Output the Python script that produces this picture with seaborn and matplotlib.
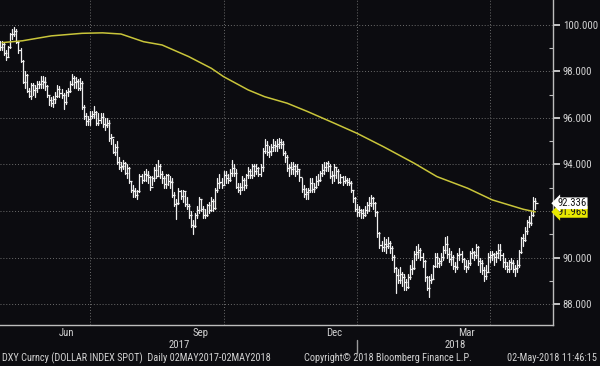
import numpy as np
import pandas as pd
import matplotlib
matplotlib.use("Agg")
import matplotlib.pyplot as plt
import matplotlib.transforms as mtransforms
from matplotlib import font_manager
import seaborn as sns

# === Daily bars, DXY 02MAY2017 - 02MAY2018 ===
start, end = "2017-05-02", "2018-05-02"

highs = [
    99.3, 99.3, 99.2, 98.9, 99.1, 99.65, 99.8, 99.9, 99.8, 99.3, 99.0, 98.5, 98.0, 97.9, 97.3, 97.5, 97.5, 97.4, 97.6, 97.6, 97.8, 97.8,
    97.75, 97.40, 96.95, 96.90, 96.95, 97.10, 97.40, 97.35, 97.25, 97.05, 97.20, 97.30, 97.60, 97.90, 97.80, 97.75, 97.65, 97.70, 97.60, 96.55, 96.20, 96.10,
    96.30, 96.30, 96.50, 96.30, 96.20, 96.20, 96.20, 96.00, 96.00, 95.90, 95.30, 95.10, 94.90, 95.00, 94.30, 94.10, 94.20, 94.10, 94.00, 93.90, 93.30,
    93.10, 93.00, 92.90, 93.60, 93.60, 93.70, 93.80, 93.70, 93.50, 93.50, 93.90, 94.00, 94.20, 94.00, 93.70, 93.50, 93.60, 93.60, 93.50, 93.40, 92.80, 92.50, 93.00,
    92.90, 92.90, 92.80, 92.60, 92.30, 92.00, 91.60, 91.90, 92.20, 92.60, 92.50, 92.20, 92.10, 92.30, 92.40, 92.60, 92.50, 93.00, 93.40, 93.60, 93.40,
    93.70, 93.70, 93.60, 93.80, 94.20, 94.00, 93.80, 93.20, 93.20, 93.50, 93.40, 93.60, 93.90, 93.80, 94.00, 94.00, 94.00, 93.90, 94.00, 94.70, 95.10, 95.00,
    94.80, 94.90, 95.10, 95.00, 95.10, 95.15, 95.10, 95.00, 94.60, 94.40, 94.00, 94.10, 94.10, 94.00, 94.00, 93.80, 93.40, 93.10, 93.00, 93.00, 93.40, 93.40,
    93.20, 93.50, 93.60, 93.70, 94.00, 94.10, 94.10, 94.15, 94.00, 93.70, 94.00, 93.90, 93.80, 93.60, 93.50, 93.50, 93.40, 93.40, 93.30, 92.90, 92.60,
    92.30, 92.20, 92.10, 92.10, 92.20, 92.40, 92.60, 92.70, 92.60, 92.40, 92.00, 91.10, 90.70, 90.90, 90.80, 90.90, 90.70, 90.50, 90.10, 89.60, 89.50, 89.60, 89.40,
    89.30, 89.10, 89.30, 89.70, 89.90, 90.30, 90.50, 90.60, 90.40, 90.20, 89.90, 89.20, 89.20, 89.30, 89.70, 90.20, 90.20, 90.00, 90.20, 90.50,
    90.90, 90.95, 90.40, 90.30, 90.10, 89.80, 90.20, 90.40, 90.30, 90.00, 89.90, 89.90, 90.30, 90.40, 90.30, 90.60, 90.50, 90.00, 89.90, 89.60, 89.70, 90.20,
    90.30, 90.30, 90.20, 90.30, 90.60, 90.60, 90.20, 90.00, 89.80, 89.90, 90.00, 89.90, 89.70, 89.90, 90.35, 90.90, 91.00, 91.30, 91.60, 91.80, 92.00, 92.60, 92.55,
]

lows = [
    98.9, 98.9, 98.7, 98.5, 98.6, 99.0, 99.4, 99.5, 99.2, 98.8, 98.4, 97.5, 97.3, 97.1, 96.9, 96.8, 97.0, 96.9, 97.1, 97.3, 97.3, 97.3,
    97.20, 96.90, 96.55, 96.50, 96.45, 96.65, 96.90, 96.90, 96.85, 96.40, 96.60, 96.95, 97.10, 97.40, 97.30, 97.30, 97.20, 97.20, 96.40, 95.95, 95.70, 95.70,
    95.70, 96.00, 96.00, 95.70, 95.70, 95.80, 95.60, 95.50, 95.60, 95.00, 94.90, 94.50, 94.40, 94.00, 93.80, 93.70, 93.80, 93.60, 93.40, 93.20, 92.80,
    92.60, 92.60, 92.50, 92.80, 93.20, 93.30, 93.30, 93.20, 92.90, 93.10, 93.30, 93.40, 93.50, 93.40, 93.20, 93.00, 93.00, 93.10, 93.00, 92.60, 92.20, 91.65, 92.30,
    92.50, 92.40, 92.20, 92.10, 91.70, 91.30, 91.00, 91.30, 91.70, 91.90, 92.00, 91.70, 91.70, 91.80, 91.90, 92.00, 92.00, 92.10, 92.80, 93.00, 93.00,
    93.10, 93.20, 93.20, 93.30, 93.50, 93.50, 93.00, 92.80, 92.75, 92.90, 92.90, 93.00, 93.40, 93.40, 93.40, 93.50, 93.60, 93.50, 93.50, 93.70, 94.50, 94.40,
    94.30, 94.40, 94.60, 94.60, 94.60, 94.70, 94.70, 94.40, 94.10, 93.70, 93.50, 93.60, 93.60, 93.50, 93.60, 93.30, 92.80, 92.60, 92.50, 92.50, 92.80, 92.80,
    92.80, 93.00, 93.10, 93.30, 93.50, 93.60, 93.70, 93.70, 93.40, 93.20, 93.30, 93.40, 93.20, 93.20, 93.10, 93.20, 93.10, 93.10, 92.80, 92.40, 92.00,
    91.80, 91.80, 91.70, 91.70, 91.80, 91.90, 92.00, 92.20, 92.10, 91.80, 90.90, 90.40, 90.30, 90.30, 90.20, 90.40, 90.20, 89.90, 89.40, 88.50, 88.90, 88.90, 88.80,
    88.60, 88.60, 88.70, 89.10, 89.30, 89.50, 89.90, 90.00, 89.90, 89.60, 89.00, 88.60, 88.30, 88.90, 89.10, 89.60, 89.60, 89.60, 89.70, 89.90,
    90.20, 90.00, 89.80, 89.70, 89.50, 89.40, 89.50, 89.90, 89.80, 89.50, 89.40, 89.50, 89.70, 90.00, 89.90, 90.00, 89.70, 89.40, 89.30, 89.00, 89.10, 89.40,
    89.80, 89.90, 89.70, 89.80, 90.00, 89.90, 89.60, 89.50, 89.40, 89.40, 89.50, 89.40, 89.20, 89.40, 89.60, 90.20, 90.50, 90.70, 91.00, 91.30, 91.40, 91.80, 92.10,
]

closes = [
    99.05, 99.15, 98.80, 98.60, 99.05, 99.60, 99.60, 99.75, 99.25, 98.90, 98.45, 97.55, 97.85, 97.15, 96.95, 97.40, 97.20, 97.30, 97.45, 97.45, 97.60, 97.55,
    97.35, 97.00, 96.75, 96.65, 96.80, 96.95, 97.25, 97.05, 97.00, 96.70, 97.10, 97.15, 97.45, 97.70, 97.55, 97.60, 97.30, 97.50, 96.45, 96.10, 95.85, 95.95,
    96.10, 96.15, 96.25, 95.80, 95.90, 96.05, 95.75, 95.70, 95.80, 95.15, 95.20, 94.55, 94.75, 94.10, 93.90, 93.95, 94.05, 93.65, 93.85, 93.30, 92.90,
    92.85, 92.70, 92.85, 93.50, 93.35, 93.60, 93.55, 93.45, 93.05, 93.40, 93.75, 93.50, 93.95, 93.60, 93.40, 93.15, 93.55, 93.30, 93.25, 92.70, 92.30, 92.35, 92.85,
    92.65, 92.85, 92.30, 92.20, 91.85, 91.40, 91.35, 91.85, 92.05, 92.50, 92.10, 91.85, 91.85, 92.25, 92.05, 92.45, 92.15, 92.90, 93.20, 93.25, 93.10,
    93.55, 93.40, 93.35, 93.65, 93.85, 93.65, 93.05, 92.90, 93.05, 93.35, 93.10, 93.55, 93.70, 93.55, 93.95, 93.70, 93.85, 93.60, 93.90, 94.60, 94.85, 94.55,
    94.60, 94.75, 94.85, 94.80, 94.90, 94.95, 94.90, 94.50, 94.30, 93.85, 93.90, 93.80, 93.95, 93.70, 93.80, 93.45, 92.95, 92.75, 92.80, 92.90, 93.20, 92.95,
    93.05, 93.30, 93.35, 93.65, 93.75, 93.90, 94.05, 93.95, 93.50, 93.55, 93.90, 93.70, 93.25, 93.45, 93.30, 93.35, 93.25, 93.20, 92.90, 92.55, 92.10,
    91.95, 92.05, 91.90, 91.85, 92.05, 92.25, 92.35, 92.55, 92.35, 91.95, 91.05, 90.55, 90.45, 90.60, 90.50, 90.65, 90.40, 90.05, 89.55, 89.25, 89.05, 89.30, 89.15,
    88.95, 88.75, 89.15, 89.50, 89.55, 90.15, 90.25, 90.35, 90.05, 89.85, 89.15, 88.70, 89.05, 89.10, 89.65, 90.05, 89.75, 89.85, 90.05, 90.35,
    90.60, 90.15, 89.95, 90.05, 89.65, 89.60, 90.10, 90.15, 89.95, 89.65, 89.60, 89.75, 90.20, 90.25, 90.10, 90.45, 89.85, 89.75, 89.45, 89.20, 89.40, 90.05,
    90.10, 90.15, 90.05, 90.20, 90.35, 90.10, 89.80, 89.65, 89.50, 89.80, 89.75, 89.50, 89.55, 89.70, 90.25, 90.85, 90.75, 91.15, 91.55, 91.50, 91.85, 92.45, 92.336,
]

# 200-day moving average (trading-day position, value)
ma_pos = [1, 11, 25, 40, 50, 59, 70, 79, 92, 103, 109, 121, 129, 140, 150, 163, 174, 187, 202, 213, 228, 240, 255, 261]
ma_vals = [99.23, 99.31, 99.52, 99.63, 99.65, 99.60, 99.27, 99.13, 98.63, 98.13, 97.77, 97.20, 96.91, 96.63, 96.27,
           95.77, 95.34, 94.76, 94.05, 93.48, 92.98, 92.48, 92.08, 91.965]

last_price = 92.336
last_ma = 91.965

ytick_vals = [88, 90, 94, 96, 98, 100]
grid_vals = [88, 90, 92, 94, 96, 98, 100]
month_names = {"2017-06": "Jun", "2017-09": "Sep", "2017-12": "Dec", "2018-03": "Mar"}
quarter_months = ["2017-07", "2017-10", "2018-01", "2018-04"]
years = ["2017", "2018"]
footer_left = "DXY Curncy (DOLLAR INDEX SPOT)  Daily 02MAY2017-02MAY2018"
footer_mid = "Copyright\u00a9 2018 Bloomberg Finance L.P."
footer_right = "02-May-2018 11:46:15"

# === Build frames ===
days = pd.bdate_range(start, end)
pos = np.arange(len(days))
months = days.to_period("M").astype(str)
month_first = pd.Series(pos).groupby(months).min()
month_mid = pd.Series(pos).groupby(months).mean()

bars = pd.DataFrame({
    "pos": np.concatenate([pos, pos]),
    "price": np.concatenate([lows, highs]),
    "day": np.concatenate([pos, pos]),
})
ma = pd.DataFrame({"pos": ma_pos, "ma": ma_vals})

# === Style ===
bg = "#0c0c10"
fg = "#d2d2d2"
sns.set_theme(style="dark", rc={"axes.facecolor": bg, "figure.facecolor": bg})

avail = {f.name for f in font_manager.fontManager.ttflist}
narrow = next((n for n in ["Liberation Sans Narrow", "DejaVu Sans Condensed", "Roboto Condensed"] if n in avail), "Roboto")
plt.rcParams["font.family"] = [narrow, "DejaVu Sans"]

fig = plt.figure(figsize=(6, 3.66), dpi=100)
renderer = fig.canvas.get_renderer()


def fit_size(s, width_px, base=10.0):
    # font size that makes text s about width_px wide
    t = fig.text(0, 0, s, fontsize=base)
    w = t.get_window_extent(renderer).width
    t.remove()
    return base * width_px / w


fs_tick = fit_size("100.000", 34)
fs_foot = fit_size(footer_left, 268)
fs_mid = fit_size(footer_mid, 195)
fs_right = fit_size(footer_right, 95)
fs_foot = min(fs_foot, fs_mid, fs_right)

ax = fig.add_axes([0, 41 / 366, 553 / 600, 325 / 366])
ax.set_facecolor(bg)

xlim = (1.1, 269.6)
ax.set_xlim(*xlim)
ax.set_ylim(87.11, 101.06)

# grid
for g in grid_vals:
    ax.axhline(g, color="#6c6c6c", lw=0.7, ls=(0, (1, 2)), zorder=1)
for q in quarter_months:
    ax.axvline(month_first[q], color="#6c6c6c", lw=0.7, ls=(0, (1, 2)), zorder=1)

# bars (high-low) and close ticks
sns.lineplot(data=bars, x="pos", y="price", units="day", estimator=None, sort=False,
             color="#f0f0f0", linewidth=0.9, ax=ax, legend=False, zorder=3)
ax.plot(pos, closes, linestyle="none", marker=1, markersize=2, mew=0.9, color="#f0f0f0", zorder=3)

# moving average
sns.lineplot(data=ma, x="pos", y="ma", color="#c9c53a", linewidth=1.1, ax=ax, zorder=4)

# axes cosmetics
for s in ["left", "top"]:
    ax.spines[s].set_visible(False)
for s in ["right", "bottom"]:
    ax.spines[s].set_color("#bdbdbd")
    ax.spines[s].set_linewidth(1.0)

ax.yaxis.tick_right()
ax.set_yticks(ytick_vals)
ax.set_yticklabels([f"{v:.3f}" for v in ytick_vals])
ax.set_yticks(np.arange(89, 101, 2), minor=True)
ax.tick_params(axis="y", which="major", direction="out", length=5, width=1.3,
               colors=fg, labelsize=fs_tick, pad=2, right=True, left=False)
ax.tick_params(axis="y", which="minor", direction="in", length=3, width=0.8,
               color="#bdbdbd", right=True, left=False)

ax.set_xticks(month_first.values)
ax.set_xticklabels([])
ax.tick_params(axis="x", which="major", direction="out", length=3, width=0.8, color="#bdbdbd")
ax.set_xlabel("")
ax.set_ylabel("")

trans = mtransforms.blended_transform_factory(ax.transData, ax.transAxes)
for key, name in month_names.items():
    ax.text(month_mid[key], -8 / 325, name, transform=trans, ha="center", va="center",
            color=fg, fontsize=fs_tick)
jan = month_first["2018-01"]
ax.text((xlim[0] + jan) / 2, -20 / 325, years[0], transform=trans, ha="center", va="center",
        color=fg, fontsize=fs_tick)
ax.text((jan + xlim[1]) / 2, -20 / 325, years[1], transform=trans, ha="center", va="center",
        color=fg, fontsize=fs_tick)
ax.plot([jan, jan], [-15 / 325, -28 / 325], transform=trans, color="#9a9a9a", lw=1, clip_on=False)

# last value tags
ytr = mtransforms.blended_transform_factory(ax.transAxes, ax.transData)
ax.text(1.008, last_ma, f"{last_ma:.3f}", transform=ytr, ha="left", va="center", fontsize=fs_tick,
        color="#151515", bbox=dict(boxstyle="larrow,pad=0.08", fc="#e8e800", ec="none"),
        clip_on=False, zorder=5)
ax.text(1.008, last_price, f"{last_price:.3f}", transform=ytr, ha="left", va="center", fontsize=fs_tick,
        color="#151515", bbox=dict(boxstyle="larrow,pad=0.08", fc="white", ec="none"),
        clip_on=False, zorder=6)

# footer
fig.text(2 / 600, 8 / 366, footer_left, color=fg, fontsize=fs_foot, ha="left", va="center")
fig.text(304 / 600, 8 / 366, footer_mid, color=fg, fontsize=fs_foot, ha="left", va="center")
fig.text(597 / 600, 8 / 366, footer_right, color=fg, fontsize=fs_foot, ha="right", va="center")

fig.savefig("out.png", dpi=100, facecolor=bg)
